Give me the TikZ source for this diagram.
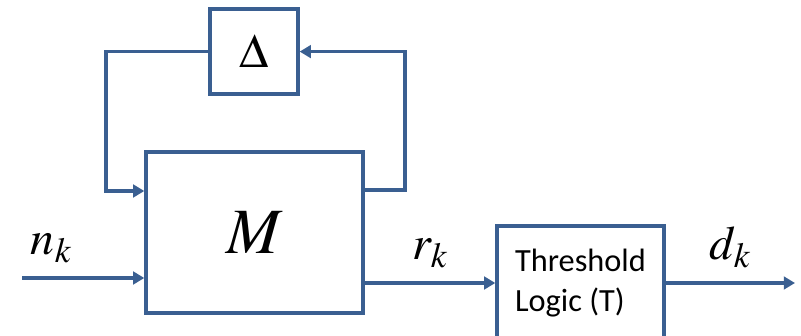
\documentclass[tikz,border=0pt]{standalone}
\usepackage{mathptmx}
\usepackage{fontspec}
\setsansfont{Carlito}
\usetikzlibrary{arrows.meta}
\definecolor{sysblue}{RGB}{58,95,145}

\tikzset{
  blk/.style={draw=sysblue, line width=2.4pt, fill=white, inner sep=0pt},
  sig/.style={draw=sysblue, line width=2.4pt, -{Triangle[length=8pt,width=9pt]}},
}

\begin{document}
\begin{tikzpicture}[font=\fontsize{34}{38}\selectfont]
\useasboundingbox (0,0) rectangle (20.025,8.4);
% ---------- blocks ----------
\node[blk, minimum width=2.2cm, minimum height=2.125cm] (delta) at (6.35,7.11) {$\Delta$};
\node[blk, minimum width=5.425cm, minimum height=4.025cm] (plant) at (6.3625,2.5875) {\fontsize{46}{50}\selectfont $M$};
\node[blk, minimum width=4.175cm, minimum height=2.85cm, align=left,
      font=\sffamily\fontsize{23}{28}\selectfont] (thr) at (14.5125,1.325) {Threshold\\Logic (T)};
% ---------- uncertainty loop ----------
\coordinate (lc) at (2.65,7.11);
\coordinate (rc) at (10.125,7.11);
\draw[sig] (delta.west) -- (lc) |- ([yshift=1.0375cm]plant.west);
\draw[sig] ([yshift=1.0625cm]plant.east) -| (rc) -- (delta.east);
% ---------- signals ----------
\coordinate (nin) at (0.55,1.45);
\coordinate (dout) at (19.875,1.325);
\draw[sig] (nin) -- (nin -| plant.west) node[pos=0.24, above=6pt] {$n_k$};
\draw[sig] (thr.west -| plant.east) -- (thr.west) node[midway, above=6pt] {$r_k$};
\draw[sig] (thr.east) -- (dout) node[midway, above=6pt] {$d_k$};
\end{tikzpicture}
\end{document}
